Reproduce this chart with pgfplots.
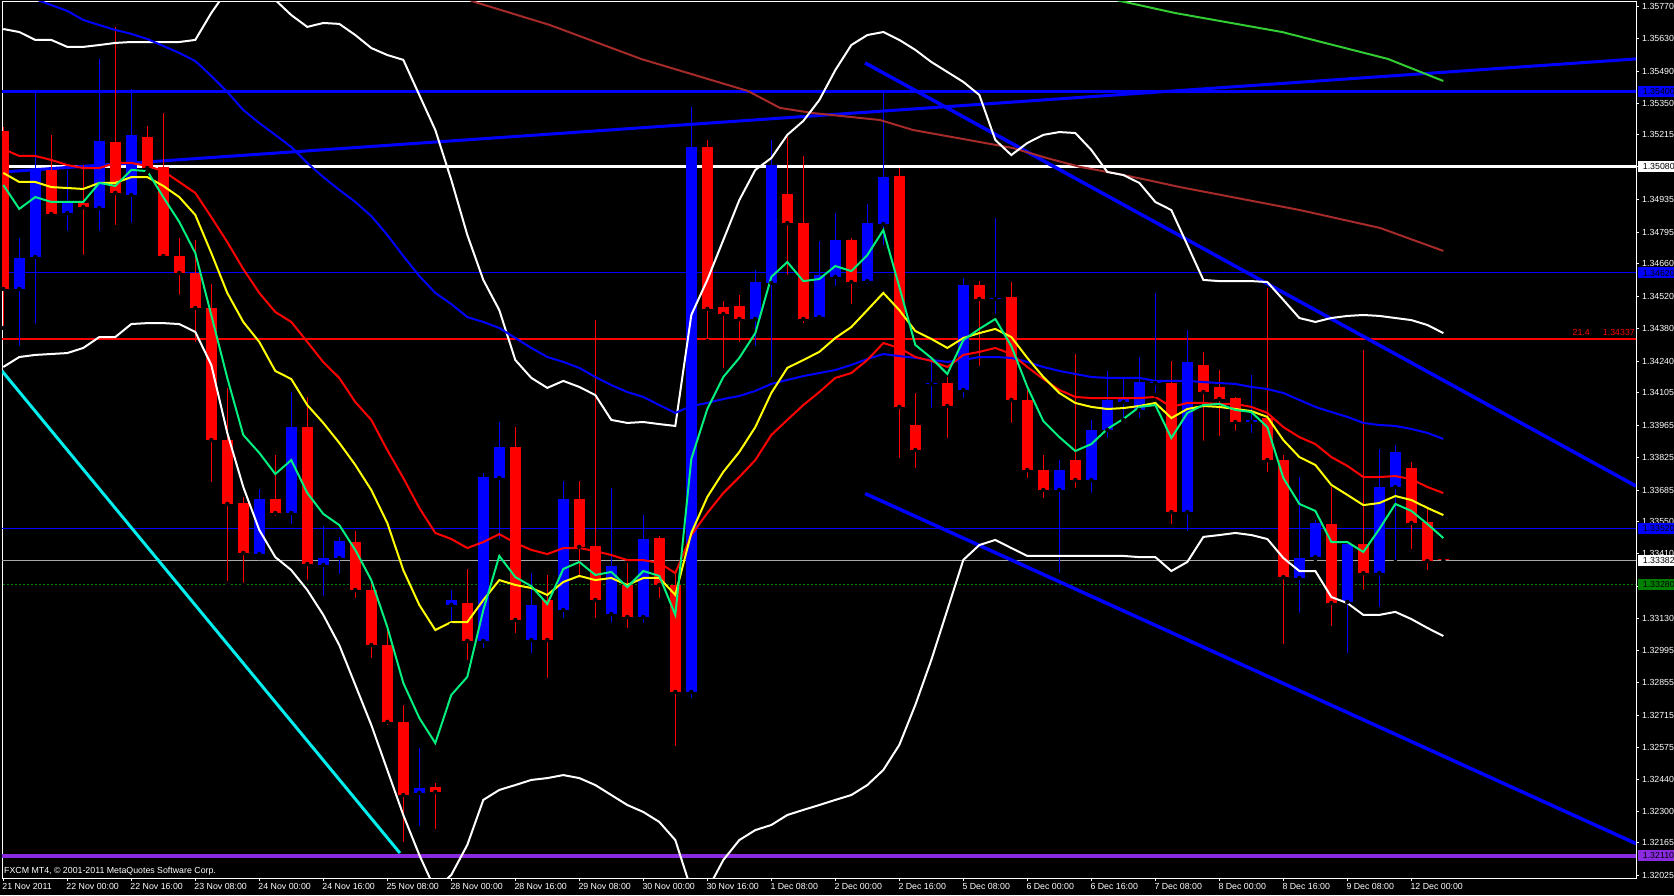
\documentclass[border=0pt]{standalone}
\usepackage{pgfplots}
\pgfplotsset{compat=1.18}
\usepackage{pgfplotstable}
\usepackage{fontspec}
\setmainfont{Liberation Sans}

\definecolor{mtblue}{HTML}{0000FF}
\definecolor{mtred}{HTML}{FF0000}
\definecolor{emagreen}{HTML}{00F080}
\definecolor{emayellow}{HTML}{FFFF00}
\definecolor{mabrown}{HTML}{A52A2A}
\definecolor{malime}{HTML}{32CD32}
\definecolor{tlcyan}{HTML}{00EEEE}
\definecolor{hlpurple}{HTML}{8A2BE2}
\definecolor{hlgrey}{HTML}{A9A9A9}
\definecolor{hlgreen}{HTML}{008000}
\newcommand{\mtfont}{\fontsize{8.8}{10}\selectfont}

% H4 candles, bar index i (0 = 21 Nov 08:00)
\pgfplotstableread{
i o h l c
1 1.34551 1.34771 1.34297 1.34685
2 1.34689 1.35408 1.34392 1.35064
4 1.34878 1.35064 1.34792 1.34922
6 1.34900 1.35542 1.34792 1.35189
8 1.34956 1.35413 1.34827 1.35215
16 1.33409 1.33689 1.33392 1.33646
18 1.33586 1.34107 1.33530 1.33956
20 1.33362 1.33530 1.33220 1.33392
21 1.33392 1.33483 1.33315 1.33465
26 1.32380 1.32574 1.32229 1.32401
28 1.33190 1.33254 1.33104 1.33211
30 1.33035 1.33758 1.32996 1.33741
31 1.33737 1.33978 1.33465 1.33870
33 1.33039 1.33327 1.32974 1.33190
35 1.33168 1.33724 1.33125 1.33646
38 1.33151 1.33694 1.33104 1.33358
40 1.33138 1.33577 1.33104 1.33474
43 1.32815 1.35335 1.32780 1.35163
47 1.34422 1.34633 1.34297 1.34581
48 1.34577 1.35193 1.34163 1.35085
51 1.34430 1.34758 1.34422 1.34611
52 1.34603 1.34878 1.34555 1.34762
54 1.34585 1.34917 1.34564 1.34835
55 1.34831 1.35408 1.34732 1.35033
58 1.34142 1.34237 1.34030 1.34146
60 1.34116 1.34598 1.34073 1.34568
62 1.34508 1.34857 1.34435 1.34512
66 1.33685 1.33814 1.33319 1.33771
68 1.33728 1.33987 1.33664 1.33944
69 1.33944 1.34198 1.33900 1.34073
70 1.34064 1.34163 1.33987 1.34081
71 1.34030 1.34258 1.33987 1.34150
72 1.34146 1.34534 1.34094 1.34150
74 1.33590 1.34374 1.33500 1.34237
78 1.33978 1.34181 1.33922 1.33987
81 1.33306 1.33741 1.33147 1.33392
82 1.33396 1.33556 1.33375 1.33543
84 1.33203 1.33453 1.32974 1.33453
86 1.33327 1.33862 1.33172 1.33698
87 1.33698 1.33879 1.33375 1.33849
}\bull

\pgfplotstableread{
i o h l c
0 1.35232 1.35249 1.34383 1.34551
3 1.35064 1.35215 1.34857 1.34874
5 1.34922 1.35085 1.34689 1.34904
7 1.35184 1.35680 1.34818 1.34965
9 1.35206 1.35253 1.35055 1.35072
10 1.35077 1.35309 1.34685 1.34693
11 1.34693 1.34771 1.34517 1.34620
12 1.34620 1.34762 1.34314 1.34469
13 1.34469 1.34573 1.33711 1.33900
14 1.33900 1.34124 1.33284 1.33625
15 1.33629 1.33655 1.33276 1.33414
17 1.33646 1.33836 1.33564 1.33586
19 1.33956 1.34086 1.33289 1.33366
22 1.33461 1.33508 1.33211 1.33254
23 1.33254 1.33297 1.32953 1.33017
24 1.33017 1.33082 1.32664 1.32686
25 1.32686 1.32759 1.32160 1.32371
27 1.32406 1.32423 1.32216 1.32384
29 1.33198 1.33345 1.32944 1.33035
32 1.33870 1.33956 1.33060 1.33125
34 1.33211 1.33319 1.32867 1.33039
36 1.33646 1.33724 1.33297 1.33440
37 1.33444 1.34417 1.33125 1.33211
39 1.33276 1.33371 1.33082 1.33138
41 1.33478 1.33487 1.33211 1.33276
42 1.33276 1.33340 1.32574 1.32815
44 1.35163 1.35193 1.34327 1.34465
45 1.34473 1.34499 1.34202 1.34443
46 1.34478 1.34525 1.34314 1.34422
49 1.34960 1.35206 1.34603 1.34835
50 1.34835 1.35124 1.34396 1.34422
53 1.34762 1.34771 1.34478 1.34581
56 1.35038 1.35072 1.33814 1.34043
57 1.33965 1.34103 1.33771 1.33857
59 1.34146 1.34172 1.33900 1.34047
61 1.34568 1.34585 1.34211 1.34508
63 1.34517 1.34581 1.33965 1.34073
64 1.34073 1.34116 1.33728 1.33771
65 1.33771 1.33836 1.33642 1.33685
67 1.33814 1.34271 1.33685 1.33728
73 1.34146 1.34241 1.33530 1.33590
75 1.34224 1.34280 1.33888 1.34107
76 1.34129 1.34202 1.33909 1.34077
77 1.34081 1.34086 1.33931 1.33978
79 1.33995 1.34555 1.33754 1.33814
80 1.33814 1.33836 1.33013 1.33310
83 1.33539 1.33698 1.33091 1.33198
85 1.33453 1.34288 1.33246 1.33327
88 1.33780 1.33806 1.33422 1.33543
89 1.33547 1.33603 1.33332 1.33379
90 1.33386 1.33388 1.33371 1.33382
}\bear

% indicators: g fast EMA, y mid EMA, r slow EMA, b long MA, u/lw Bollinger bands
\pgfplotstableread{
i g y r b u lw
0 1.34999 1.35051 1.35154 1.35848 1.35671 1.34215
1 1.34896 1.35012 1.35124 1.35822 1.35658 1.34258
2 1.34947 1.35012 1.35124 1.35800 1.35624 1.34267
3 1.34926 1.34990 1.35107 1.35774 1.35624 1.34271
4 1.34926 1.34986 1.35085 1.35749 1.35594 1.34275
5 1.34926 1.34982 1.35072 1.35710 1.35594 1.34297
6 1.35008 1.35008 1.35072 1.35688 1.35602 1.34344
7 1.34995 1.35008 1.35094 1.35667 1.35611 1.34344
8 1.35064 1.35033 1.35094 1.35650 1.35615 1.34400
9 1.35059 1.35033 1.35081 1.35628 1.35615 1.34404
10 1.34947 1.34995 1.35059 1.35598 1.35615 1.34404
11 1.34840 1.34947 1.35012 1.35568 1.35615 1.34400
12 1.34706 1.34870 1.34965 1.35533 1.35624 1.34366
13 1.34439 1.34706 1.34861 1.35469 1.35740 1.34224
14 1.34168 1.34534 1.34753 1.35400 1.35839 1.33931
15 1.33922 1.34409 1.34637 1.35322 1.35925 1.33698
16 1.33845 1.34323 1.34534 1.35266 1.35882 1.33513
17 1.33754 1.34198 1.34452 1.35215 1.35796 1.33396
18 1.33814 1.34163 1.34409 1.35163 1.35731 1.33340
19 1.33672 1.34051 1.34323 1.35094 1.35680 1.33254
20 1.33582 1.33974 1.34236 1.35033 1.35697 1.33147
21 1.33534 1.33888 1.34168 1.34978 1.35693 1.33017
22 1.33427 1.33793 1.34064 1.34926 1.35645 1.32845
23 1.33297 1.33685 1.33987 1.34865 1.35589 1.32673
24 1.33095 1.33543 1.33857 1.34784 1.35559 1.32479
25 1.32854 1.33340 1.33737 1.34693 1.35538 1.32285
26 1.32703 1.33190 1.33608 1.34607 1.35387 1.32113
27 1.32595 1.33082 1.33500 1.34534 1.35236 1.31962
28 1.32802 1.33116 1.33474 1.34486 1.35021 1.32027
29 1.32880 1.33116 1.33435 1.34430 1.34784 1.32156
30 1.33168 1.33211 1.33461 1.34409 1.34590 1.32350
31 1.33401 1.33297 1.33495 1.34383 1.34460 1.32393
32 1.33310 1.33276 1.33457 1.34340 1.34245 1.32414
33 1.33271 1.33263 1.33427 1.34297 1.34168 1.32436
34 1.33194 1.33233 1.33409 1.34258 1.34125 1.32444
35 1.33345 1.33289 1.33435 1.34237 1.34155 1.32457
36 1.33375 1.33315 1.33435 1.34211 1.34129 1.32444
37 1.33319 1.33297 1.33422 1.34172 1.34094 1.32414
38 1.33332 1.33306 1.33405 1.34137 1.33987 1.32371
39 1.33267 1.33276 1.33383 1.34107 1.33974 1.32328
40 1.33336 1.33306 1.33383 1.34086 1.33978 1.32298
41 1.33315 1.33306 1.33371 1.34051 1.33969 1.32255
42 1.33147 1.33233 1.33327 1.34017 1.33961 1.32177
43 1.33819 1.33500 1.33491 1.34047 1.34439 1.31962
44 1.34034 1.33655 1.33586 1.34060 1.34590 1.31962
45 1.34172 1.33763 1.33672 1.34077 1.34762 1.32091
46 1.34254 1.33849 1.33741 1.34090 1.34934 1.32177
47 1.34361 1.33956 1.33814 1.34112 1.35064 1.32220
48 1.34603 1.34103 1.33922 1.34142 1.35115 1.32242
49 1.34667 1.34211 1.33987 1.34159 1.35215 1.32285
50 1.34585 1.34245 1.34051 1.34176 1.35275 1.32307
51 1.34594 1.34280 1.34107 1.34189 1.35365 1.32328
52 1.34650 1.34340 1.34168 1.34202 1.35494 1.32350
53 1.34628 1.34387 1.34189 1.34224 1.35602 1.32371
54 1.34697 1.34460 1.34245 1.34249 1.35645 1.32414
55 1.34805 1.34534 1.34318 1.34271 1.35658 1.32479
56 1.34560 1.34460 1.34297 1.34262 1.35624 1.32587
57 1.34310 1.34370 1.34258 1.34254 1.35581 1.32759
58 1.34254 1.34336 1.34241 1.34245 1.35529 1.32953
59 1.34185 1.34297 1.34215 1.34237 1.35486 1.33168
60 1.34331 1.34340 1.34267 1.34245 1.35443 1.33384
61 1.34379 1.34361 1.34280 1.34258 1.35387 1.33448
62 1.34422 1.34379 1.34297 1.34258 1.35193 1.33470
63 1.34305 1.34344 1.34271 1.34254 1.35128 1.33435
64 1.34129 1.34254 1.34215 1.34237 1.35180 1.33401
65 1.33982 1.34172 1.34163 1.34215 1.35215 1.33401
66 1.33913 1.34103 1.34116 1.34198 1.35227 1.33401
67 1.33853 1.34060 1.34086 1.34185 1.35223 1.33401
68 1.33883 1.34043 1.34081 1.34172 1.35150 1.33401
69 1.33948 1.34034 1.34081 1.34168 1.35055 1.33401
70 1.33991 1.34038 1.34081 1.34168 1.35042 1.33401
71 1.34043 1.34047 1.34081 1.34168 1.35008 1.33396
72 1.34051 1.34060 1.34086 1.34155 1.34926 1.33396
73 1.33909 1.33995 1.34043 1.34155 1.34891 1.33336
74 1.34017 1.34034 1.34060 1.34155 1.34741 1.33375
75 1.34051 1.34047 1.34060 1.34150 1.34590 1.33483
76 1.34056 1.34043 1.34056 1.34146 1.34585 1.33491
77 1.34030 1.34034 1.34056 1.34142 1.34585 1.33500
78 1.34021 1.34025 1.34043 1.34129 1.34585 1.33491
79 1.33956 1.34000 1.34017 1.34120 1.34581 1.33474
80 1.33737 1.33900 1.33956 1.34103 1.34504 1.33392
81 1.33625 1.33827 1.33913 1.34073 1.34426 1.33336
82 1.33595 1.33793 1.33883 1.34043 1.34409 1.33336
83 1.33461 1.33707 1.33827 1.34021 1.34426 1.33224
84 1.33461 1.33664 1.33789 1.34000 1.34435 1.33198
85 1.33418 1.33620 1.33741 1.33974 1.34439 1.33147
86 1.33517 1.33629 1.33741 1.33965 1.34435 1.33147
87 1.33625 1.33659 1.33745 1.33961 1.34426 1.33160
88 1.33595 1.33642 1.33732 1.33948 1.34417 1.33129
89 1.33539 1.33608 1.33698 1.33931 1.34396 1.33091
90 1.33478 1.33577 1.33672 1.33905 1.34361 1.33056
}\ind

\begin{document}
\begin{tikzpicture}
\fill[black] (0,0) rectangle (1674pt,895pt);
\begin{axis}[
    at={(2pt,17pt)}, anchor=south west,
    width=1634pt, height=876pt, scale only axis,
    xmin=-0.08, xmax=102.04,
    ymin=1.320136, ymax=1.357874,
    axis line style={white, line width=1pt},
    tick style={white, line width=1pt},
    major tick length=3pt,
    tick align=outside,
    xtick pos=left, ytick pos=right,
    xticklabel pos=left, yticklabel pos=right,
    xtick={0,4,...,88},
    xticklabels={21 Nov 2011,22 Nov 00:00,22 Nov 16:00,23 Nov 08:00,24 Nov 00:00,24 Nov 16:00,25 Nov 08:00,28 Nov 00:00,28 Nov 16:00,29 Nov 08:00,30 Nov 00:00,30 Nov 16:00,1 Dec 08:00,2 Dec 00:00,2 Dec 16:00,5 Dec 08:00,6 Dec 00:00,6 Dec 16:00,7 Dec 08:00,8 Dec 00:00,8 Dec 16:00,9 Dec 08:00,12 Dec 00:00},
    ytick={1.35770,1.35630,1.35490,1.35350,1.35215,1.35080,1.34935,1.34795,1.34660,1.34520,1.34380,1.34240,1.34105,1.33965,1.33825,1.33685,1.33550,1.33410,1.33270,1.33130,1.32995,1.32855,1.32715,1.32575,1.32440,1.32300,1.32165,1.32025},
    yticklabels={1.35770,1.35630,1.35490,1.35350,1.35215,1.35080,1.34935,1.34795,1.34660,1.34520,1.34380,1.34240,1.34105,1.33965,1.33825,1.33685,1.33550,1.33410,1.33270,1.33130,1.32995,1.32855,1.32715,1.32575,1.32440,1.32300,1.32165,1.32025},
    scaled y ticks=false,
    ticklabel style={white, font=\mtfont},
    xticklabel style={anchor=north west, inner sep=0pt, xshift=-1pt, yshift=-2pt},
    yticklabel style={anchor=west, inner sep=0pt, xshift=3pt},
]
% horizontal levels
\addplot[mtblue, line width=3pt] coordinates {(-1,1.35400) (103,1.35400)};
\addplot[white, line width=3pt] coordinates {(-1,1.35080) (103,1.35080)};
\addplot[mtblue, line width=1pt] coordinates {(-1,1.34620) (103,1.34620)};
\addplot[mtred, line width=2pt] coordinates {(-1,1.34337) (103,1.34337)};
\addplot[mtblue, line width=1pt] coordinates {(-1,1.33520) (103,1.33520)};
\addplot[hlgrey, line width=1pt] coordinates {(-1,1.33382) (103,1.33382)};
\addplot[hlgreen, line width=1pt, dash pattern=on 2pt off 2pt] coordinates {(-1,1.33280) (103,1.33280)};
\addplot[hlpurple, line width=4pt] coordinates {(-1,1.32110) (103,1.32110)};
% trend lines
\addplot[mtblue, line width=3pt] coordinates {(-0.08,1.35055) (102.04,1.35542)};
\addplot[mtblue, line width=3.5pt] coordinates {(53.86,1.35525) (102.04,1.33702)};
\addplot[mtblue, line width=3.5pt] coordinates {(53.86,1.33670) (102.04,1.32162)};
\addplot[tlcyan, line width=3pt] coordinates {(-0.08,1.34198) (24.79,1.32121)};
% candles: wicks then bodies
\addplot[only marks, mark=none, error bars/.cd, y dir=plus, y explicit, error mark=none,
    error bar style={draw=mtblue, line width=1pt}]
    table[x=i, y=l, y error plus expr=\thisrow{h}-\thisrow{l}] {\bull};
\addplot[only marks, mark=none, error bars/.cd, y dir=plus, y explicit, error mark=none,
    error bar style={draw=mtred, line width=1pt}]
    table[x=i, y=l, y error plus expr=\thisrow{h}-\thisrow{l}] {\bear};
\addplot[only marks, mark=none, error bars/.cd, y dir=plus, y explicit, error mark=none,
    error bar style={draw=mtblue, line width=10.5pt}]
    table[x=i, y=o, y error plus expr=\thisrow{c}-\thisrow{o}] {\bull};
\addplot[only marks, mark=none, error bars/.cd, y dir=plus, y explicit, error mark=none,
    error bar style={draw=mtred, line width=10.5pt}]
    table[x=i, y=c, y error plus expr=\thisrow{o}-\thisrow{c}] {\bear};
% long moving averages
\addplot[mabrown, line width=2pt] coordinates {(26.67,1.35861) (29.48,1.35787) (34.17,1.35688) (39.86,1.35542) (46.54,1.35404) (48.54,1.35331) (50.6,1.35309) (54.79,1.35279) (56.85,1.35236) (61.04,1.35184) (63.11,1.35158) (65.23,1.35115) (67.29,1.35077) (69.36,1.35051) (71.48,1.35021) (73.54,1.34990) (81.04,1.34891) (86.04,1.34814) (90,1.34715)};
\addplot[malime, line width=2pt] coordinates {(67.29,1.35830) (73.23,1.35740) (79.92,1.35658) (86.54,1.35542) (90,1.35447)};
% indicators
\addplot[white, line width=2pt] table[x=i, y=u] {\ind};
\addplot[white, line width=2pt] table[x=i, y=lw] {\ind};
\addplot[mtblue, line width=2pt] table[x=i, y=b] {\ind};
\addplot[mtred, line width=2pt] table[x=i, y=r] {\ind};
\addplot[emayellow, line width=2pt] table[x=i, y=y] {\ind};
\addplot[emagreen, line width=2pt] table[x=i, y=g] {\ind};
% anchors for the price boxes
\coordinate (p1) at (axis cs:102.04,1.35400);
\coordinate (p2) at (axis cs:102.04,1.35080);
\coordinate (p3) at (axis cs:102.04,1.34620);
\coordinate (p4) at (axis cs:102.04,1.33520);
\coordinate (p5) at (axis cs:102.04,1.33382);
\coordinate (p6) at (axis cs:102.04,1.33280);
\coordinate (p7) at (axis cs:102.04,1.32110);
\coordinate (p8) at (axis cs:102.04,1.34337);
\end{axis}
\foreach \n/\col/\txt in {p1/mtblue/1.35400, p2/white/1.35080, p3/mtblue/1.34620, p4/mtblue/1.33520, p5/white/1.33382, p6/hlgreen/1.33280, p7/hlpurple/1.32110} {
  \fill[\col] ([xshift=2pt,yshift=-5.5pt]\n) rectangle ([xshift=40pt,yshift=5.5pt]\n);
  \node[anchor=west, inner sep=0pt, text=black, font=\mtfont] at ([xshift=6.7pt]\n) {\txt};
}
\node[anchor=south east, inner sep=0pt, text=mtred, font=\mtfont] at ([xshift=-1pt,yshift=2.5pt]p8) {1.34337};
\node[anchor=south east, inner sep=0pt, text=mtred, font=\mtfont] at ([xshift=-46pt,yshift=2.5pt]p8) {21.4};
\node[anchor=base west, inner sep=0pt, text=white, font=\mtfont] at (4pt,22pt) {FXCM MT4, © 2001-2011 MetaQuotes Software Corp.};
\pgfresetboundingbox
\path[use as bounding box] (0,0) rectangle (1674pt,895pt);
\end{tikzpicture}
\end{document}
